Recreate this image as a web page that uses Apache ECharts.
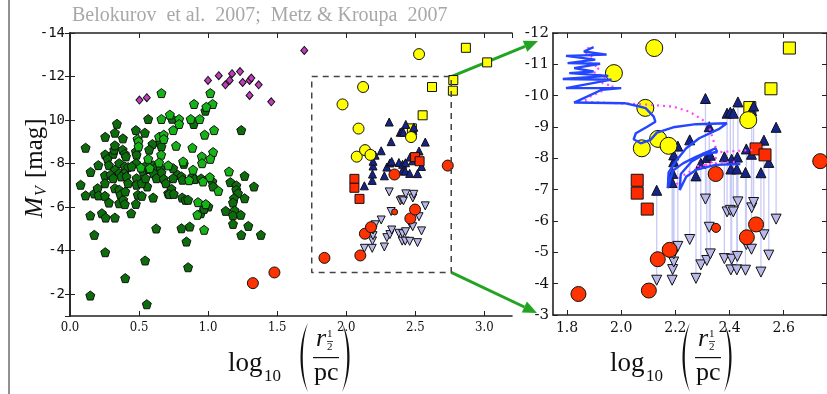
<!DOCTYPE html>
<html><head><meta charset="utf-8">
<script src="https://cdn.jsdelivr.net/npm/echarts@6/dist/echarts.min.js"></script>
<style>html,body{margin:0;padding:0;background:#fff}#c{width:827px;height:394px}</style>
</head><body><div id="c"></div>
<script>
// ---------------- DATA ----------------
const titleText = 'Belokurov  et al.  2007;  Metz & Kroupa  2007';
const leftXTicks = [0, 0.5, 1.0, 1.5, 2.0, 2.5, 3.0];
const rightXTicks = [1.8, 2.0, 2.2, 2.4, 2.6];

// Milky-Way globular clusters (pentagons), two shades
const greenLight = [[0.662,-11.24],[1.016,-11.24],[1.033,-10.74],[0.987,-10.61],[0.898,-10.74],[0.662,-10.05],[0.723,-10.25],[0.790,-10.05],[0.874,-10.05],[0.939,-10.05],[0.790,-9.82],[1.043,-9.54],[0.975,-9.33],[0.747,-9.54],[0.489,-9.13],[0.645,-9.23],[0.679,-9.33],[0.679,-9.13],[0.768,-8.82],[0.886,-8.73],[1.036,-8.53],[0.954,-8.33],[1.016,-8.22],[0.956,-8.02],[0.819,-8.10],[0.660,-8.41],[0.566,-8.22],[0.496,-9.02],[0.496,-8.79],[0.513,-7.82],[0.578,-7.79],[0.645,-8.05],[0.711,-7.92],[0.891,-7.72],[1.012,-7.38],[1.151,-7.64],[1.074,-6.75],[0.927,-6.23],[0.983,-6.14],[0.922,-5.65],[0.971,-4.96],[0.862,-7.24],[0.963,-7.18]];
const greenDark = [[0.980,-10.43],[0.566,-10.05],[0.739,-10.06],[0.896,-9.82],[0.340,-9.83],[1.240,-9.54],[0.477,-9.54],[0.542,-9.42],[0.255,-9.23],[0.325,-9.42],[0.383,-9.16],[0.650,-8.97],[0.597,-8.90],[0.824,-7.99],[0.573,-8.64],[0.662,-8.79],[0.113,-8.73],[0.255,-8.42],[0.313,-8.45],[0.272,-8.22],[0.320,-8.64],[0.381,-8.64],[0.325,-8.84],[0.397,-8.45],[0.405,-8.33],[0.477,-8.56],[0.482,-8.41],[0.479,-8.02],[0.542,-7.87],[0.205,-7.93],[0.282,-7.93],[0.149,-7.62],[0.356,-8.02],[0.397,-7.87],[0.421,-7.84],[0.446,-7.87],[0.602,-7.92],[0.617,-7.79],[0.655,-7.79],[0.662,-7.59],[0.747,-7.79],[0.780,-7.49],[0.253,-7.46],[0.325,-7.72],[0.356,-7.56],[0.393,-7.56],[0.371,-7.41],[0.294,-7.49],[0.409,-7.41],[0.482,-7.33],[0.530,-7.64],[0.571,-7.75],[0.605,-7.56],[0.626,-7.33],[0.679,-7.30],[0.694,-7.10],[0.747,-7.33],[0.807,-7.41],[0.814,-7.26],[0.886,-7.41],[0.903,-7.29],[0.949,-7.32],[1.031,-7.18],[1.161,-7.15],[1.204,-7.00],[1.264,-7.44],[1.332,-6.95],[1.204,-6.80],[1.216,-6.64],[1.187,-6.41],[1.264,-6.41],[1.180,-6.21],[1.127,-5.83],[1.192,-5.85],[1.180,-5.62],[1.236,-5.65],[1.180,-5.23],[1.240,-4.73],[1.291,-5.14],[1.382,-4.73],[0.077,-7.03],[0.113,-6.54],[0.176,-6.63],[0.200,-6.87],[0.207,-6.54],[0.253,-6.52],[0.282,-6.21],[0.253,-7.10],[0.313,-7.33],[0.325,-6.87],[0.356,-6.80],[0.366,-6.57],[0.356,-6.18],[0.385,-6.34],[0.397,-6.14],[0.400,-6.72],[0.421,-7.10],[0.482,-7.03],[0.491,-6.57],[0.520,-6.52],[0.477,-6.15],[0.443,-5.72],[0.559,-6.95],[0.602,-6.44],[0.518,-7.10],[0.547,-7.33],[0.711,-6.64],[0.735,-6.84],[0.718,-6.60],[0.751,-6.61],[0.812,-6.44],[0.836,-6.34],[0.855,-6.34],[1.002,-6.03],[0.947,-5.72],[0.971,-5.92],[0.807,-5.03],[0.867,-5.11],[0.147,-5.62],[0.231,-5.72],[0.258,-5.52],[0.325,-5.52],[0.176,-4.73],[0.255,-3.93],[0.544,-3.55],[0.624,-5.02],[0.843,-4.42],[0.855,-3.24],[0.147,-1.94],[0.400,-2.74],[0.556,-1.54],[1.036,-6.95]];
const magentaDiamonds = [[0.503,-10.92],[0.556,-11.03],[0.999,-11.82],[1.077,-12.04],[1.125,-11.62],[1.156,-11.82],[1.173,-12.13],[1.231,-12.23],[1.25,-11.73],[1.30,-11.82],[1.313,-11.93],[1.30,-11.13],[1.366,-11.62],[1.457,-10.84],[1.696,-13.2]];
const yellowCircles = [[2.527,-13.03],[2.122,-11.52],[1.973,-10.72],[2.089,-9.61],[2.076,-8.32],[2.136,-8.62],[2.175,-8.40],[2.469,-9.22]];
const yellowSquares = [[2.866,-13.32],[3.02,-12.65],[2.775,-11.84],[2.772,-11.35],[2.621,-11.52],[2.553,-10.22],[2.475,-9.62]];
const redCircles = [[1.324,-2.51],[1.48,-3.0],[1.842,-3.67],[2.102,-3.78],[2.135,-4.78],[2.179,-5.08],[2.349,-7.50],[2.464,-5.48],[2.498,-5.89],[2.735,-7.91]];
const redCirclesSmall = [[2.35,-5.78]];
const redSquares = [[2.059,-7.30],[2.059,-6.89],[2.096,-6.38],[2.498,-8.30],[2.531,-8.11]];
// [log r, M_V before (up triangle), M_V after (down triangle)]
const pairX = [2.131,2.188,2.190,2.194,2.194,2.209,2.253,2.276,2.294,2.311,2.316,2.325,2.329,2.381,2.391,2.403,2.414,2.405,2.408,2.427,2.429,2.431,2.459,2.462,2.481,2.482,2.489,2.516,2.527,2.545,2.572];
const pairUp = [-6.98,-7.23,-7.52,-7.89,-8.11,-8.39,-8.59,-7.44,-7.84,-9.91,-8.03,-9.01,-8.10,-8.05,-9.44,-9.47,-9.44,-7.66,-7.97,-7.66,-8.04,-9.80,-7.55,-8.30,-8.13,-9.52,-9.67,-7.54,-8.58,-7.87,-8.99];
const pairDown = [-4.11,-4.11,-4.45,-4.69,-4.95,-5.19,-5.41,-4.17,-4.60,-6.70,-4.74,-5.80,-4.95,-4.80,-6.29,-6.34,-6.29,-4.44,-4.78,-4.44,-4.87,-6.61,-4.43,-5.25,-5.10,-6.42,-6.59,-4.37,-5.56,-4.91,-6.06];
const trackBlue = [[1.898,-11.55],[1.862,-11.41],[1.946,-11.31],[1.796,-11.27],[1.904,-11.15],[1.802,-11.04],[1.922,-11.02],[1.826,-10.88],[1.898,-10.77],[1.808,-10.72],[1.952,-10.63],[1.784,-10.53],[1.964,-10.51],[1.796,-10.24],[2.0,-10.24],[1.928,-10.19],[1.826,-9.78],[2.012,-9.76],[2.06,-9.67],[2.09,-9.60],[2.12,-9.33],[2.126,-9.17],[2.096,-9.01],[2.054,-8.80],[2.046,-8.61],[2.072,-8.48],[2.108,-8.59],[2.132,-8.82],[2.192,-8.99],[2.276,-9.09],[2.39,-9.12],[2.36,-8.93],[2.288,-8.64],[2.24,-8.32],[2.205,-7.95],[2.175,-7.55],[2.172,-7.05],[2.19,-7.6],[2.228,-7.84],[2.276,-8.05],[2.348,-8.32],[2.354,-8.21],[2.30,-8.1],[2.26,-7.9],[2.22,-7.5],[2.216,-6.99],[2.24,-7.41],[2.276,-7.63],[2.348,-7.79],[2.44,-7.82]];
const trackPink = [[1.88,-11.55],[1.87,-11.35],[1.90,-11.2],[1.88,-11.05],[1.92,-10.9],[1.90,-10.75],[1.94,-10.6],[1.93,-10.4],[1.97,-10.3],[1.93,-10.15],[1.88,-9.95],[1.86,-9.8],[1.95,-9.77],[2.05,-9.74],[2.12,-9.70],[2.192,-9.65],[2.252,-9.49],[2.30,-9.23],[2.324,-9.01],[2.336,-8.69],[2.348,-8.37],[2.354,-8.05],[2.336,-7.89],[2.30,-7.73],[2.252,-7.57],[2.216,-7.39],[2.204,-7.15]];
const trackPink2 = [[2.28,-7.75],[2.36,-7.86],[2.42,-7.89]];
const trackPink3 = [[2.30,-8.15],[2.38,-8.21],[2.49,-8.27]];
const zoomBox = [[1.75,-12],[2.76,-12],[2.76,-3],[1.75,-3],[1.75,-12]];

// ---------------- CHART ----------------
const chart = echarts.init(document.getElementById('c'), null, {renderer:'canvas'});
const pent = 'path://M0,-1 L0.951,-0.309 L0.588,0.809 L-0.588,0.809 L-0.951,-0.309 Z';
const ups = pairX.map((x,i)=>[x,pairUp[i]]);
const downs = pairX.map((x,i)=>[x,pairDown[i]]);
const pairs = pairX.map((x,i)=>[x,pairUp[i],pairDown[i]]);
const edge = {borderColor:'#111', borderWidth:1};
const axLine = {show:true, lineStyle:{color:'#222', width:1.6}};
const tick = {show:true, inside:true, length:5, lineStyle:{color:'#222', width:1}};
const tickLbl = (o)=>Object.assign({color:'#111', fontFamily:'DejaVu Serif', fontSize:14}, o);

function sc(name, data, xi, symbol, size, color, extra){
  return Object.assign({type:'scatter', name, data, xAxisIndex:xi, yAxisIndex:xi, symbol, symbolSize:size,
    itemStyle:Object.assign({color, opacity:1}, edge), emphasis:{disabled:true}, silent:true}, extra||{});
}
function line(data, xi, color, width, type, extra){
  return Object.assign({type:'line', data, xAxisIndex:xi, yAxisIndex:xi, symbol:'none', silent:true,
    lineStyle:{color, width, type}, clip:true}, extra||{});
}

const series = [
  // left panel
  sc('gd', greenDark, 0, pent, 9, '#0b6e0b'),
  sc('gl', greenLight, 0, pent, 9, '#16b316'),
  sc('md', magentaDiamonds, 0, 'diamond', [7,8], '#c23cc2'),
  sc('ys', yellowSquares, 0, 'rect', 9, '#ffff00'),
  sc('dn', downs, 0, 'triangle', 8, '#b8b8ea', {symbolRotate:180}),
  sc('up', ups, 0, 'triangle', 8, '#14248c'),
  sc('rs', redSquares, 0, 'rect', 9, '#ff2a00'),
  sc('rc', redCircles, 0, 'circle', 11, '#ff3300'),
  sc('rcs', redCirclesSmall, 0, 'circle', 6, '#ff3300'),
  sc('yc', yellowCircles, 0, 'circle', 11, '#ffff00'),
  line(zoomBox, 0, '#444', 1.5, [6,5]),
  // right panel
  {type:'custom', xAxisIndex:2, yAxisIndex:2, data:pairs, silent:true, clip:true,
   encode:{x:0, y:[1,2]},
   renderItem:(p,api)=>{const a=api.coord([api.value(0),api.value(1)]); const b=api.coord([api.value(0),api.value(2)]);
     return {type:'line', shape:{x1:a[0],y1:a[1],x2:b[0],y2:b[1]}, style:{stroke:'#c9cbf6', lineWidth:1.3}};}},
  line(trackPink, 2, '#ff44ff', 2.2, [2,4]),
  line(trackPink2, 2, '#ff44ff', 2.2, [2,4]),
  line(trackPink3, 2, '#ff44ff', 2.2, [2,4]),
  line(trackBlue, 2, '#2446ff', 2.4, 'solid'),
  sc('ys2', yellowSquares, 2, 'rect', 12, '#ffff00'),
  sc('dn2', downs, 2, 'triangle', 10, '#b8b8ea', {symbolRotate:180}),
  sc('up2', ups, 2, 'triangle', 10, '#14248c'),
  sc('rs2', redSquares, 2, 'rect', 12, '#ff2a00'),
  sc('rc2', redCircles, 2, 'circle', 15, '#ff3300'),
  sc('rcs2', redCirclesSmall, 2, 'circle', 9, '#ff3300'),
  sc('yc2', yellowCircles, 2, 'circle', 17, '#ffff00'),
];

const option = {
  animation:false,
  backgroundColor:'#fff',
  grid:[
    {left:70, right:315, top:33, bottom:78, containLabel:false},
    {left:553, right:-8, top:33, bottom:79, containLabel:false}
  ],
  xAxis:[
    {type:'value', gridIndex:0, min:0, max:3.2, interval:0.5, axisLine:axLine, axisTick:tick, splitLine:{show:false},
     axisLabel:tickLbl({fontFamily:'DejaVu Serif Condensed, DejaVu Serif', fontSize:13, margin:5, showMaxLabel:false, formatter:v=>leftXTicks.includes(v)?v.toFixed(1):''})},
    {type:'value', gridIndex:0, position:'top', min:0, max:3.2, interval:0.5, axisLine:axLine, axisTick:tick, splitLine:{show:false}, axisLabel:{show:false}},
    {type:'value', gridIndex:1, min:1.748, max:2.76, axisLine:axLine, splitLine:{show:false},
     axisTick:Object.assign({customValues:rightXTicks}, tick),
     axisLabel:tickLbl({customValues:rightXTicks, margin:6, formatter:v=>v.toFixed(1)})},
    {type:'value', gridIndex:1, position:'top', min:1.748, max:2.76, axisLine:axLine, splitLine:{show:false},
     axisTick:Object.assign({customValues:rightXTicks}, tick), axisLabel:{show:false}}
  ],
  yAxis:[
    {type:'value', gridIndex:0, inverse:true, min:-14, max:-1, interval:2, axisLine:axLine, axisTick:tick, splitLine:{show:false},
     axisLabel:tickLbl({fontFamily:'DejaVu Sans Mono', fontSize:14, margin:5, showMaxLabel:false, formatter:v=>v===-10?'10':(v===-1?'':String(v))})},
    {type:'value', gridIndex:0, position:'right', inverse:true, min:-14, max:-1, interval:2, axisLine:axLine, axisTick:tick, splitLine:{show:false}, axisLabel:{show:false}},
    {type:'value', gridIndex:1, inverse:true, min:-12, max:-3, interval:1, axisLine:axLine, axisTick:tick, splitLine:{show:false},
     axisLabel:tickLbl({fontSize:15, margin:4, formatter:v=>String(v)})},
    {type:'value', gridIndex:1, position:'right', inverse:true, min:-12, max:-3, interval:1, axisLine:axLine, axisTick:tick, splitLine:{show:false}, axisLabel:{show:false}}
  ],
  series
};
chart.setOption(option);

// ---------------- ANNOTATIONS ----------------
const serif = 'Liberation Serif';
function bez(p0,p1,p2,p3,t){const u=1-t;return u*u*u*p0+3*u*u*t*p1+3*u*t*t*p2+t*t*t*p3;}
function paren(x, y, left){
  // crescent-shaped thin parenthesis as polygon
  const H=69, end= left?12:0, outC= left?2:10, inC= left?5:7;
  const outer=[], inner=[];
  for(let i=0;i<=24;i++){const t=i/24;
    outer.push([x+bez(end,outC,outC,end,t), y+bez(0,18,51,H,t)]);
    inner.push([x+bez(end,inC,inC,end,t), y+bez(0,18,51,H,t)]);}
  return {type:'polygon', silent:true, shape:{points:outer.concat(inner.reverse())}, style:{fill:'#111'}};
}
function xTitle(x0){
  const t = (text, x, y, size, extra)=>({type:'text', x, y, silent:true,
    style:Object.assign({text, fill:'#111', font:size+'px "'+serif+'"', textVerticalAlign:'top'}, extra||{})});
  return [
    t('log', x0, 350, 27),
    t('10', x0+36, 368, 17),
    paren(x0+68, 323, true),
    t('r', x0+88, 326, 26, {font:'italic 26px "'+serif+'"'}),
    t('1', x0+99, 329, 11),
    {type:'rect', silent:true, shape:{x:x0+99, y:341, width:6, height:0.8}, style:{fill:'#111'}},
    t('2', x0+99, 342, 11),
    {type:'rect', silent:true, shape:{x:x0+85, y:357, width:26, height:1.2}, style:{fill:'#111'}},
    t('pc', x0+86, 360, 26),
    paren(x0+114, 323, false)
  ];
}
function arrow(p0, p1){
  const dx=p1[0]-p0[0], dy=p1[1]-p0[1], L=Math.hypot(dx,dy), ux=dx/L, uy=dy/L;
  const hl=14, hw=6;
  const b=[p1[0]-ux*hl, p1[1]-uy*hl];
  return [
    {type:'line', silent:true, shape:{x1:p0[0], y1:p0[1], x2:b[0], y2:b[1]}, style:{stroke:'#22a422', lineWidth:3}},
    {type:'polygon', silent:true, shape:{points:[p1,[b[0]-uy*hw,b[1]+ux*hw],[b[0]+uy*hw,b[1]-ux*hw]]}, style:{fill:'#22a422'}}
  ];
}
const boxTR = chart.convertToPixel({xAxisIndex:0, yAxisIndex:0}, [zoomBox[1][0], zoomBox[1][1]]);
const boxBR = chart.convertToPixel({xAxisIndex:0, yAxisIndex:0}, [zoomBox[2][0], zoomBox[2][1]]);
const rTL = chart.convertToPixel({xAxisIndex:2, yAxisIndex:2}, [1.748, -12]);
const rBL = chart.convertToPixel({xAxisIndex:2, yAxisIndex:2}, [1.748, -3]);

const graphic = [
  {type:'line', silent:true, shape:{x1:9, y1:0, x2:9, y2:394}, style:{stroke:'#222', lineWidth:1}},
  {type:'text', x:72, y:6, silent:true, style:{text:titleText, fill:'#a8a8a8', font:'20px "Liberation Serif"', textVerticalAlign:'top'}},
  {type:'group', x:23, y:218, rotation:Math.PI/2, silent:true, children:[
    {type:'text', x:0, y:0, style:{text:'M', fill:'#111', font:'italic 25px "Liberation Serif"', textVerticalAlign:'top'}},
    {type:'text', x:22, y:11, style:{text:'V', fill:'#111', font:'italic 16px "Liberation Serif"', textVerticalAlign:'top'}},
    {type:'text', x:40, y:0, style:{text:'[mag]', fill:'#111', font:'25px "Liberation Serif"', textVerticalAlign:'top'}}
  ]},
  ...xTitle(228), ...xTitle(610),
  ...arrow(boxTR, [rTL[0]-15, rTL[1]+8]),
  ...arrow(boxBR, [rBL[0]-16, rBL[1]-2])
];
chart.setOption({graphic});
</script></body></html>
